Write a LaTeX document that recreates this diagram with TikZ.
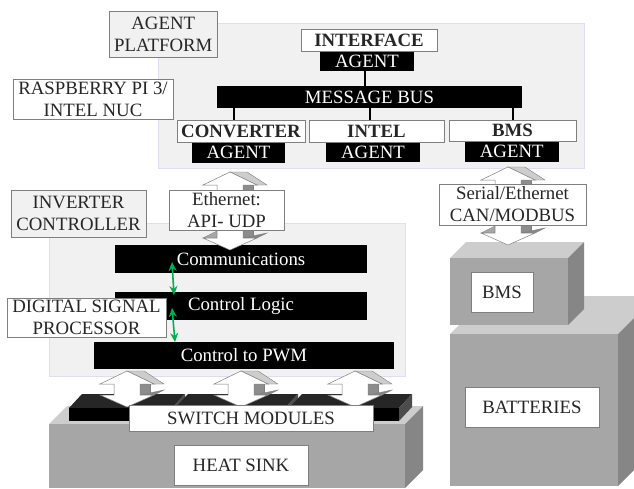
\documentclass[tikz,border=0pt]{standalone}
\usepackage{fontspec}
\usetikzlibrary{arrows.meta}
\setmainfont{Liberation Serif}
\definecolor{panelgray}{HTML}{F1F1F1}
\definecolor{frontgray}{HTML}{A6A6A6}
\definecolor{topgray}{HTML}{CDCDCD}
\definecolor{sidegray}{HTML}{868686}
\definecolor{edgegray}{HTML}{7F7F7F}
\definecolor{textgray}{HTML}{262626}
\definecolor{linkgreen}{HTML}{00B050}
\tikzset{
  labelfont/.style={font=\fontsize{18.8}{22}\selectfont},
  whitebox/.style={draw=edgegray,fill=white,text=textgray,inner sep=0pt,align=center,labelfont},
  graybox/.style={whitebox,fill=panelgray},
  blackbar/.style={fill=black,text=white,inner sep=0pt,align=center,labelfont},
  panel/.style={fill=panelgray,draw=blue!8!panelgray,inner sep=0pt},
  busline/.style={line width=2.2pt},
  greenlink/.style={linkgreen,line width=1.6pt,{Stealth[length=9pt,width=8pt]}-{Stealth[length=9pt,width=8pt]}},
}
\newcommand{\bigarrow}[3]{
  \fill[topgray,draw=edgegray,line width=0.4pt] (#1,#2) -- ++(17,0) -- ++(20,13) -- ++(-10,0) -- cycle;
  \fill[frontgray!85!black,draw=edgegray,line width=0.4pt] (#1+13,#2+13) rectangle (#1+23,#3-12);
  \fill[sidegray,draw=edgegray,line width=0.4pt] (#1+13,#3-12) -- (#1+37,#3-17) -- (#1+27,#3-12) -- cycle;
  \fill[white,draw=edgegray,line width=0.5pt] (#1,#2) -- (#1+27,#2+13) -- (#1+13,#2+13) -- (#1+13,#3-12)
    -- (#1+27,#3-12) -- (#1,#3) -- (#1-27,#3-12) -- (#1-13,#3-12) -- (#1-13,#2+13) -- (#1-27,#2+13) -- cycle;
}
\newcommand{\leftflank}[2]{
  \fill[frontgray,draw=edgegray,line width=0.4pt] (#1-27,#2-12) -- (#1-13,#2-19) -- (#1-13,#2-12) -- cycle;
}
\newcommand{\cube}[5]{
  \fill[topgray] (#1,#4) -- (#1+#5,#4-#5) -- (#3+#5,#4-#5) -- (#3,#4) -- cycle;
  \fill[sidegray] (#3,#4) -- (#3+#5,#4-#5) -- (#3+#5,#2-#5) -- (#3,#2) -- cycle;
  \fill[frontgray] (#1,#4) rectangle (#3,#2);
}
\begin{document}
\begin{tikzpicture}[x=1pt,y=-1pt]
\useasboundingbox (0,0) rectangle (634,488);
\clip (0,0) rectangle (634,488);
\fill[white] (0,0) rectangle (634,488);

\node[panel,minimum width=426pt,minimum height=145pt] (platform) at (371.5,95.5) {};
\node[panel,minimum width=356pt,minimum height=153pt] (ctrlpanel) at (227.5,299.5) {};

\cube{49}{488}{405}{424}{18}
\cube{450}{486}{618}{334}{38}
\cube{450}{325}{568}{258}{16}

\foreach \xa/\xb in {69/172,175/285,289/399} {
  \fill[black!85] (\xa,408) -- (\xa+13,394) -- (\xb+13,394) -- (\xb,408) -- cycle;
  \fill[black!70] (\xb,408) -- (\xb+13,394) -- (\xb+13,407) -- (\xb,421) -- cycle;
  \fill[black] (\xa,408) rectangle (\xb,421);
}

\node[blackbar,minimum width=252pt,minimum height=28pt] (comm) at (241,259) {Communications};
\node[blackbar,minimum width=252pt,minimum height=28pt] (logic) at (241,306) {Control Logic};
\node[blackbar,minimum width=300pt,minimum height=27pt] (pwm) at (244,355.5) {Control to PWM};
\node[blackbar,minimum width=305pt,minimum height=22pt] (bus) at (369.5,97) {MESSAGE BUS};

\node[blackbar,minimum width=94pt,minimum height=20pt] (ifagent) at (367,61) {AGENT};
\node[blackbar,minimum width=93pt,minimum height=21pt] (convagent) at (238.5,152.5) {AGENT};
\node[blackbar,minimum width=94pt,minimum height=20pt] (intelagent) at (373,152) {AGENT};
\node[blackbar,minimum width=93.5pt,minimum height=21pt] (bmsagent) at (511.75,151.5) {AGENT};

\node[whitebox,minimum width=135.5pt,minimum height=22pt] (iface) at (369,40) {\textbf{INTERFACE}};
\node[whitebox,minimum width=128pt,minimum height=22pt] (conv) at (241,131) {\textbf{CONVERTER}};
\node[whitebox,minimum width=135pt,minimum height=22pt] (intel) at (376.5,131) {\textbf{INTEL}};
\node[whitebox,minimum width=127pt,minimum height=21pt] (bmsname) at (512.5,130.5) {\textbf{BMS}};

\draw[busline] ([xshift=-2pt]ifagent.south) -- ([xshift=-2pt]ifagent.south |- bus.north);
\draw[busline] ([xshift=-7pt]conv.north) -- ([xshift=-7pt]conv.north |- bus.south);
\draw[busline] ([xshift=-6.5pt]intel.north) -- ([xshift=-6.5pt]intel.north |- bus.south);
\draw[busline] ([xshift=0.5pt]bmsname.north) -- ([xshift=0.5pt]bmsname.north |- bus.south);

\leftflank{230}{250}
\bigarrow{230}{172}{250}
\leftflank{508}{245}
\bigarrow{508}{167}{245}
\foreach \cx in {127,241,355} {
  \bigarrow{\cx}{371}{407}
}

\coordinate (commend) at (172,262);
\coordinate (logictop) at (174,295);
\coordinate (logicend) at (172,308);
\coordinate (pwmtop) at (175,342);
\draw[greenlink] (commend) -- (logictop);
\draw[greenlink] (logicend) -- (pwmtop);

\node[graybox,minimum width=108.5pt,minimum height=46pt] (platformlabel) at (163.25,34) {AGENT\\PLATFORM};
\node[whitebox,minimum width=160pt,minimum height=40pt] (hostlabel) at (93,99) {RASPBERRY PI 3/\\INTEL NUC};
\node[graybox,minimum width=135pt,minimum height=47pt] (inverterlabel) at (78.5,213.5) {INVERTER\\CONTROLLER};
\node[whitebox,minimum width=115pt,minimum height=40pt] (ethlabel) at (226.5,210) {Ethernet:\\API- UDP};
\node[whitebox,minimum width=147pt,minimum height=41pt] (seriallabel) at (512.5,204.5) {Serial/Ethernet\\CAN/MODBUS};
\node[whitebox,minimum width=159pt,minimum height=39pt] (dsplabel) at (86.5,317.5) {DIGITAL SIGNAL\\PROCESSOR};
\node[whitebox,minimum width=244pt,minimum height=26pt] (switchlabel) at (251,418) {SWITCH MODULES};
\node[whitebox,minimum width=134pt,minimum height=40pt] (heatlabel) at (241,465) {HEAT SINK};
\node[whitebox,minimum width=62pt,minimum height=40pt] (bmslabel) at (502,292) {BMS};
\node[whitebox,minimum width=134pt,minimum height=40pt] (battlabel) at (532,407) {BATTERIES};
\end{tikzpicture}
\end{document}
